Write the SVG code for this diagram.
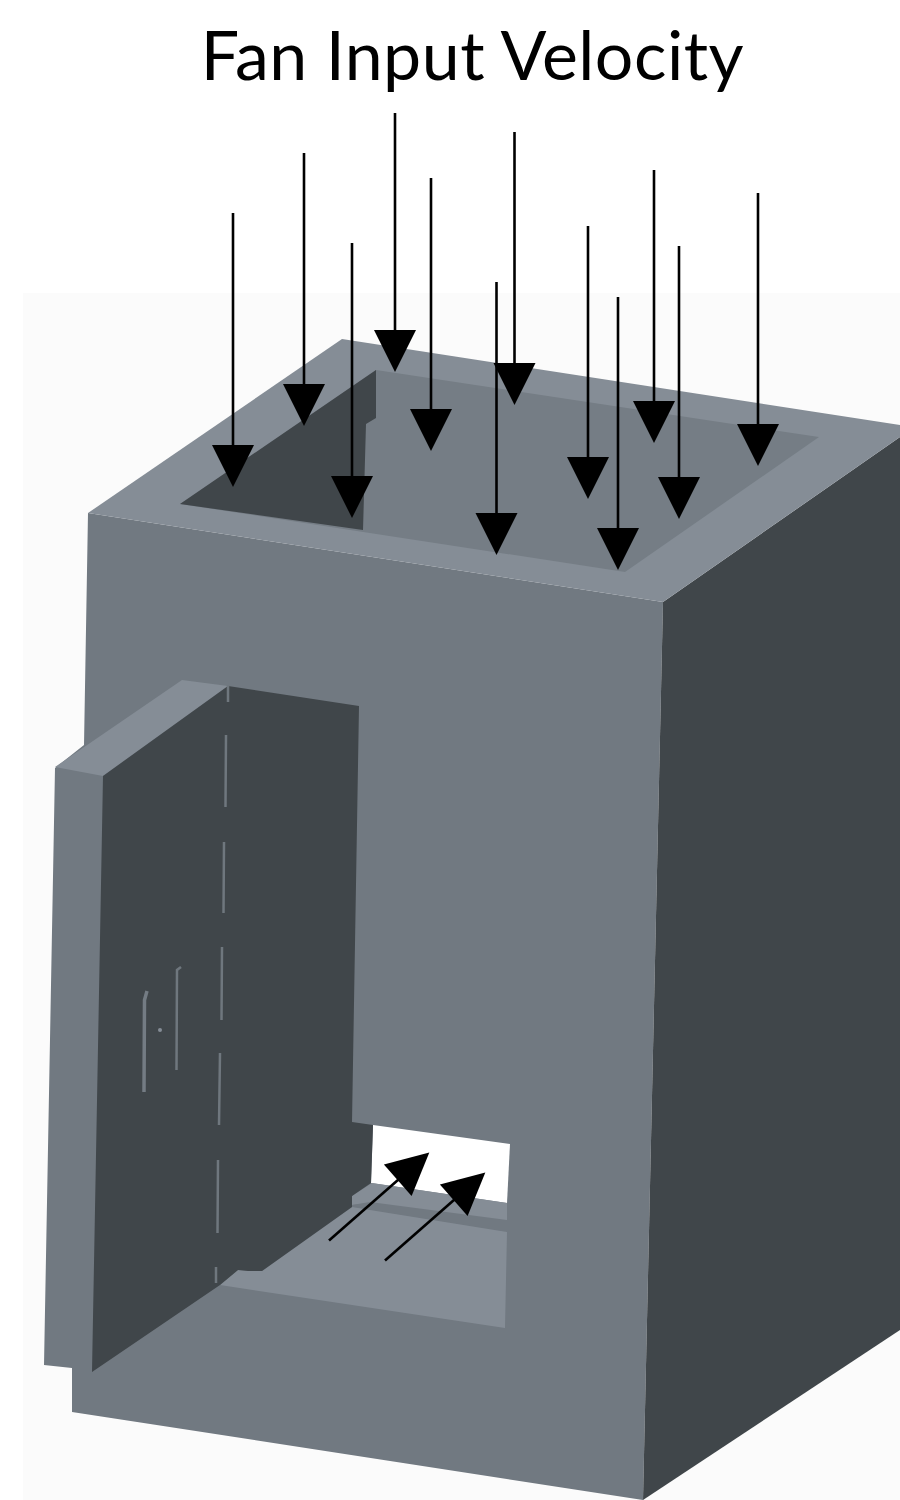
<svg xmlns="http://www.w3.org/2000/svg" width="900" height="1500" viewBox="0 0 900 1500">
  <style>
    .light{fill:#858d96}
    .front{fill:#717981}
    .dark{fill:#40464a}
    .seam{fill:none;stroke:#6f777e;stroke-width:2.500}
    .mark{fill:none;stroke:#747c84;stroke-width:3.500}
    .arrow{fill:none;stroke:#000;stroke-width:2.600;marker-end:url(#head)}
  </style>
  <defs>
    <marker id="head" markerUnits="userSpaceOnUse" markerWidth="44" markerHeight="44" refX="1" refY="21" orient="auto" overflow="visible">
      <path d="M0 0L42 21L0 42Z" fill="#000"/>
    </marker>
  </defs>
  <rect width="900" height="1500" fill="#fff"/>
  <rect x="23" y="293" width="877" height="1207" fill="#fbfbfb"/>
  <g id="housing">
    <polygon class="front" points="88,513 663,602 643,1500 72,1412 72,1368 44,1365 55,768 84,745"/>
    <polygon class="dark" points="663,602 900,437 900,1330 643,1500"/>
    <polygon class="light" points="88,513 342,339 900,425 900,437 663,602"/>
    <polygon points="180,504 376,370 819,437 625,572" fill="#757d85"/>
    <polygon class="dark" points="180,504 376,370 376,418 366,424 363,530"/>
  </g>
  <g id="opening">
    <polygon points="373,1125 510,1144 507,1203 371,1183" fill="#fff"/>
    <polygon class="light" points="352,1196 372,1183 507,1203 507,1221 370,1203 352,1205"/>
    <polygon class="front" points="352,1205 370,1202 507,1220 507,1232 370,1210"/>
    <polygon class="light" points="352,1207 370,1210 507,1232 505,1328 220,1285 238,1270 262,1271"/>
  </g>
  <g id="door">
    <polygon class="light" points="55,767 182,680 228,686 103,776"/>
    <polygon class="dark" points="103,776 228,686 359,706 352,1122 373,1125 371,1183 352,1196 352,1207 262,1271 248,1271 238,1270 220,1285 92,1372"/>
    <path class="seam" d="M228 685V702M226 735L225.500 807M224 842L223.500 913M222 947L221.500 1020M220 1053L219 1125M218 1160L217.500 1233M216 1267V1283"/>
    <path class="mark" d="M147 991L144.500 1000L144 1092"/>
    <path class="seam" d="M181 967L177 970L176.500 1070"/>
    <circle cx="160" cy="1030" r="2" fill="#858d96"/>
  </g>
  <g id="connectors">
    <line class="arrow" x1="233" y1="213" x2="233" y2="446"/>
    <line class="arrow" x1="304" y1="153" x2="304" y2="385"/>
    <line class="arrow" x1="352" y1="243" x2="352" y2="477"/>
    <line class="arrow" x1="395" y1="113" x2="395" y2="331"/>
    <line class="arrow" x1="431" y1="178" x2="431" y2="410"/>
    <line class="arrow" x1="496.500" y1="282" x2="496.500" y2="514"/>
    <line class="arrow" x1="514.500" y1="132" x2="514.500" y2="364"/>
    <line class="arrow" x1="588" y1="226" x2="588" y2="458"/>
    <line class="arrow" x1="618" y1="297" x2="618" y2="529"/>
    <line class="arrow" x1="654" y1="170" x2="654" y2="402"/>
    <line class="arrow" x1="679" y1="246" x2="679" y2="478"/>
    <line class="arrow" x1="758" y1="193" x2="758" y2="425"/>
    <line class="arrow" x1="329" y1="1240.500" x2="398.500" y2="1179.500"/>
    <line class="arrow" x1="385" y1="1260.500" x2="454.500" y2="1199.500"/>
  </g>
  <text id="title" x="472.500" y="80" text-anchor="middle" font-family="Lato, 'Open Sans', sans-serif" font-size="68" letter-spacing="0.500" fill="#000">Fan Input Velocity</text>
</svg>
